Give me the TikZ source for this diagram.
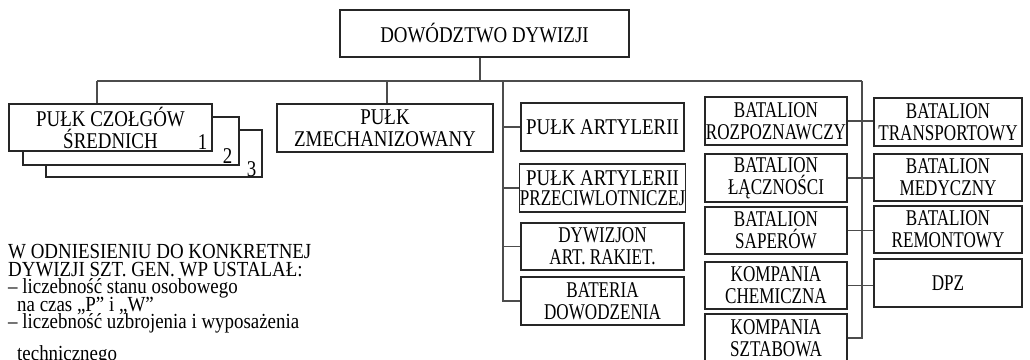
\documentclass[tikz,border=0pt]{standalone}
\usepackage{fontspec}
\setmainfont{Liberation Serif}[FakeStretch=0.84]
\newfontfamily\narrowfont{Liberation Serif}[FakeStretch=0.76]
\newfontfamily\notefont{Liberation Serif}[FakeStretch=0.88]
\usetikzlibrary{calc}
\definecolor{boxc}{gray}{0.15}
\definecolor{linec}{gray}{0.3}
\begin{document}
\begin{tikzpicture}[x=1pt,y=-1pt,
  box/.style={draw=boxc, line width=1.1pt, fill=white, align=center, inner sep=0pt,
    text=black, font=\fontsize{22.5}{22}\selectfont},
  nbox/.style={box, font=\narrowfont\fontsize{22.5}{22}\selectfont},
  conn/.style={draw=linec, line width=1.1pt},
  num/.style={anchor=base east, inner sep=0pt, font=\fontsize{22.5}{22}\selectfont},
  note/.style={anchor=north west, inner sep=0pt, align=left,
    font={\notefont\fontsize{21.5}{17.5}\selectfont\lineskiplimit=-100pt\lineskip=0pt}}]
\useasboundingbox (0,0) rectangle (1030,359);
\clip (0,0) rectangle (1030,359);
% top
\node[box, minimum width=289pt, minimum height=47pt] (dd) at (484.5,33.5) {DOWÓDZTWO DYWIZJI};
% stacked tank regiments
\node[box, minimum width=216pt, minimum height=47pt] (pc3) at (154,153.5) {};
\node[box, minimum width=216pt, minimum height=48pt] (pc2) at (131,141) {};
\node[box, minimum width=203pt, minimum height=47pt] (pc1) at (110.5,127.5) {PUŁK CZOŁGÓW\\ŚREDNICH};
\node[num] (n1) at ($(pc1.south east)+(-5,-2)$) {1};
\node[num] (n2) at ($(pc2.south east)+(-7,-2)$) {2};
\node[num] (n3) at ($(pc3.south east)+(-6,-1.5)$) {3};
\node[box, minimum width=216pt, minimum height=48pt] (pz) at (385,128) {PUŁK\\ZMECHANIZOWANY};
% artillery column
\node[box, minimum width=163pt, minimum height=48pt] (pa) at (602.5,127) {PUŁK ARTYLERII};
\node[box, minimum width=163pt, minimum height=48pt, font=\fontsize{22.5}{20}\selectfont] (pap) at (602.5,188) {PUŁK ARTYLERII\\{\narrowfont PRZECIWLOTNICZEJ}};
\node[nbox, minimum width=163pt, minimum height=47pt] (dar) at (602.5,246.5) {DYWIZJON\\ART. RAKIET.};
\node[nbox, minimum width=163pt, minimum height=48pt] (bd) at (602.5,301) {BATERIA\\DOWODZENIA};
% battalions left column
\node[nbox, minimum width=142pt, minimum height=48pt] (br) at (776,121) {BATALION\\ROZPOZNAWCZY};
\node[nbox, minimum width=142pt, minimum height=48pt] (bl) at (776,178) {BATALION\\ŁĄCZNOŚCI};
\node[nbox, minimum width=142pt, minimum height=47pt] (bs) at (776,230.5) {BATALION\\SAPERÓW};
\node[nbox, minimum width=142pt, minimum height=47pt] (kc) at (776,285.5) {KOMPANIA\\CHEMICZNA};
\node[nbox, minimum width=142pt, minimum height=48pt] (ks) at (776,338) {KOMPANIA\\SZTABOWA};
% battalions right column
\node[nbox, minimum width=148pt, minimum height=48pt] (bt) at (948,122) {BATALION\\TRANSPORTOWY};
\node[nbox, minimum width=148pt, minimum height=47pt] (bm) at (948,177.5) {BATALION\\MEDYCZNY};
\node[nbox, minimum width=148pt, minimum height=47pt] (brem) at (948,229.5) {BATALION\\REMONTOWY};
\node[nbox, minimum width=148pt, minimum height=48pt] (dpz) at (948,283) {DPZ};
% connectors
\coordinate (top) at (480,81);
\coordinate (b1) at (97,81);
\coordinate (b2) at (387,81);
\coordinate (b3) at (503,81);
\coordinate (b4) at (862,81);
\draw[conn] (dd.south -| top) -- (top);
\draw[conn] (b1) -- (b4);
\draw[conn] (b1) -- (b1 |- pc1.north);
\draw[conn] (b2) -- (b2 |- pz.north);
\draw[conn] (b3) |- (bd.west);
\draw[conn] (pa.west -| b3) -- (pa.west);
\draw[conn] (pap.west -| b3) -- (pap.west);
\draw[conn] (dar.west -| b3) -- (dar.west);
\draw[conn] (b4) |- (ks.east);
\draw[conn] (br.east) -- (br.east -| bt.west);
\draw[conn] (bl.east) -- (bl.east -| bm.west);
\draw[conn] (bs.east) -- (bs.east -| brem.west);
\draw[conn] (kc.east) -- (kc.east -| dpz.west);
% note text
\node[note] (note) at (8,244.5) {W ODNIESIENIU DO KONKRETNEJ\\
DYWIZJI SZT. GEN. WP USTALAŁ:\\
– liczebność stanu osobowego\\
\hspace*{9pt}na czas „P” i „W”\\
– liczebność uzbrojenia i wyposażenia\\[14.5pt]
\hspace*{9pt}technicznego};
\end{tikzpicture}
\end{document}
